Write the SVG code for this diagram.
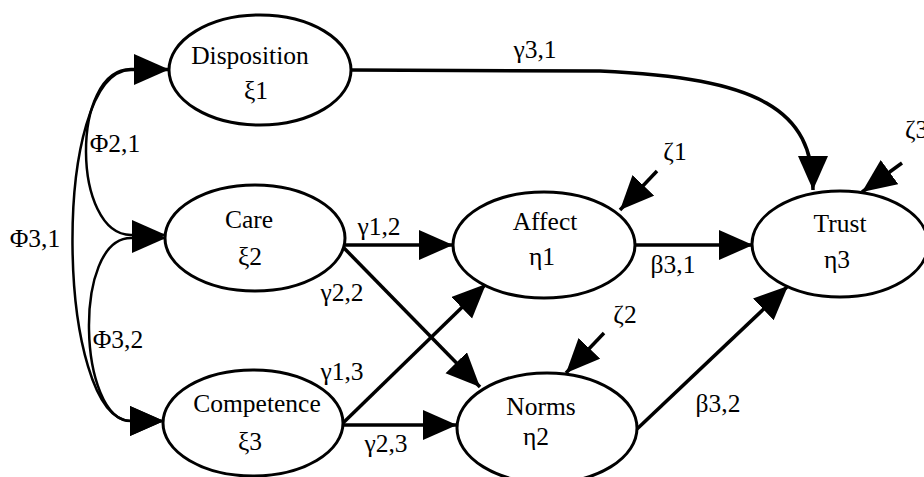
<svg xmlns="http://www.w3.org/2000/svg" width="924" height="477" viewBox="0 0 924 477">
  <style>
    .node { fill: #fff; stroke: #000; stroke-width: 3; }
    .lbl { font-family: 'Liberation Serif', 'Times New Roman', serif; font-size: 25.5px; fill: #000; text-anchor: middle; }
    .edge { fill: none; stroke: #000; stroke-width: 3.5; }
    .cov { fill: none; stroke: #000; stroke-width: 2.5; }
  </style>
  <defs>
    <marker id="head" markerUnits="userSpaceOnUse" markerWidth="36" markerHeight="32" refX="34" refY="15" orient="auto">
      <path d="M0,0 L34,15 L0,30 Z" fill="#000"/>
    </marker>
    <marker id="headStart" markerUnits="userSpaceOnUse" markerWidth="36" markerHeight="32" refX="34" refY="15" orient="auto-start-reverse">
      <path d="M0,0 L34,15 L0,30 Z" fill="#000"/>
    </marker>
  </defs>

  <rect width="924" height="477" fill="#fff"/>

  <!-- connectors -->
  <g id="connectors">
    <!-- covariances between exogenous factors -->
    <path class="cov" d="M168,69 L131,69 C 70,69 72,235 131,235 L166,235" marker-start="url(#headStart)" marker-end="url(#head)"/>
    <path class="cov" d="M166,238 L131,238 C 72,238 78,421 131,421 L164,421" marker-start="url(#headStart)" marker-end="url(#head)"/>
    <path class="cov" d="M168,70 L131,70 C 50,70 56,421 131,421 L164,421" marker-start="url(#headStart)" marker-end="url(#head)"/>

    <!-- structural paths -->
    <path class="edge" d="M351,70 L600,71 C 760,78 813,110 813,190" marker-end="url(#head)"/>
    <path class="edge" d="M344,245 L453,245" marker-end="url(#head)"/>
    <path class="edge" d="M344,248 L480,387" marker-end="url(#head)"/>
    <path class="edge" d="M343,423 L486,284" marker-end="url(#head)"/>
    <path class="edge" d="M343,425 L457,425" marker-end="url(#head)"/>
    <path class="edge" d="M635,245 L753,245" marker-end="url(#head)"/>
    <path class="edge" d="M637,429 L788,286" marker-end="url(#head)"/>

    <!-- disturbances -->
    <path class="edge" d="M657,171 L620,210" marker-end="url(#head)"/>
    <path class="edge" d="M604,333 L566,373" marker-end="url(#head)"/>
    <path class="edge" d="M902,163 L862,192" marker-end="url(#head)"/>

    <!-- path coefficients -->
    <text class="lbl" x="535" y="58">γ3,1</text>
    <text class="lbl" x="379" y="235">γ1,2</text>
    <text class="lbl" x="342" y="301">γ2,2</text>
    <text class="lbl" x="342" y="380">γ1,3</text>
    <text class="lbl" x="386" y="452">γ2,3</text>
    <text class="lbl" x="673" y="273">β3,1</text>
    <text class="lbl" x="718" y="412">β3,2</text>
    <text class="lbl" x="675" y="160">ζ1</text>
    <text class="lbl" x="625" y="323">ζ2</text>
    <text class="lbl" x="905" y="138" style="text-anchor:start">ζ3</text>
    <text class="lbl" x="115" y="152">Φ2,1</text>
    <text class="lbl" x="35" y="247">Φ3,1</text>
    <text class="lbl" x="118" y="348">Φ3,2</text>
  </g>

  <!-- latent variables -->
  <g id="disposition">
    <ellipse class="node" cx="260" cy="70" rx="91" ry="55"/>
    <text class="lbl" x="250" y="64">Disposition</text>
    <text class="lbl" x="256" y="99">ξ1</text>
  </g>
  <g id="care">
    <ellipse class="node" cx="255" cy="238" rx="90" ry="53"/>
    <text class="lbl" x="249" y="228">Care</text>
    <text class="lbl" x="250" y="265">ξ2</text>
  </g>
  <g id="competence">
    <ellipse class="node" cx="253" cy="423" rx="90" ry="53"/>
    <text class="lbl" x="257" y="412">Competence</text>
    <text class="lbl" x="250" y="450">ξ3</text>
  </g>
  <g id="affect">
    <ellipse class="node" cx="544" cy="245" rx="91" ry="53"/>
    <text class="lbl" x="545" y="230">Affect</text>
    <text class="lbl" x="542" y="265">η1</text>
  </g>
  <g id="norms">
    <ellipse class="node" cx="547" cy="428" rx="90" ry="55"/>
    <text class="lbl" x="541" y="415">Norms</text>
    <text class="lbl" x="536" y="445">η2</text>
  </g>
  <g id="trust">
    <ellipse class="node" cx="840" cy="244" rx="88" ry="53"/>
    <text class="lbl" x="840" y="232">Trust</text>
    <text class="lbl" x="837" y="268">η3</text>
  </g>
</svg>
